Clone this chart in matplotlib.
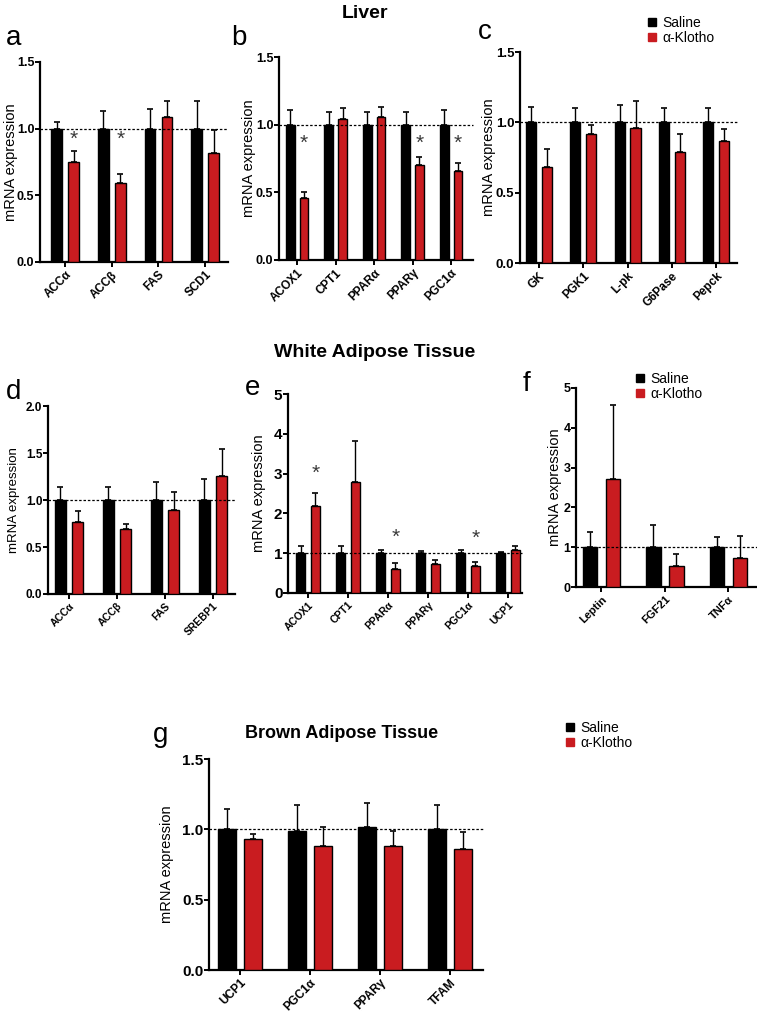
import matplotlib
matplotlib.use("Agg")
import matplotlib.pyplot as plt
from matplotlib import font_manager as fm
from matplotlib.lines import Line2D
import numpy as np

# ------------------------
# Data (means and upper SEM)
# ------------------------

# Liver - lipogenesis
a_genes = ["ACCα", "ACCβ", "FAS", "SCD1"]
a_sal = [1.0, 1.0, 1.0, 1.0]
a_sal_err = [0.05, 0.13, 0.15, 0.21]
a_kl = [0.75, 0.59, 1.09, 0.82]
a_kl_err = [0.08, 0.07, 0.12, 0.17]
a_stars = [0, 1]

# Liver - fatty acid oxidation
b_genes = ["ACOX1", "CPT1", "PPARα", "PPARγ", "PGC1α"]
b_sal = [1.0, 1.0, 1.0, 1.0, 1.0]
b_sal_err = [0.11, 0.09, 0.09, 0.09, 0.11]
b_kl = [0.46, 1.04, 1.06, 0.70, 0.66]
b_kl_err = [0.04, 0.08, 0.07, 0.06, 0.06]
b_stars = [0, 3, 4]

# Liver - glucose metabolism
c_genes = ["GK", "PGK1", "L-pk", "G6Pase", "Pepck"]
c_sal = [1.0, 1.0, 1.0, 1.0, 1.0]
c_sal_err = [0.11, 0.10, 0.12, 0.10, 0.10]
c_kl = [0.68, 0.92, 0.96, 0.79, 0.87]
c_kl_err = [0.13, 0.06, 0.19, 0.13, 0.08]
c_stars = []

# WAT - lipogenesis
d_genes = ["ACCα", "ACCβ", "FAS", "SREBP1"]
d_sal = [1.0, 1.0, 1.0, 1.0]
d_sal_err = [0.14, 0.14, 0.19, 0.22]
d_kl = [0.77, 0.69, 0.89, 1.26]
d_kl_err = [0.11, 0.06, 0.20, 0.28]
d_stars = []

# WAT - oxidation / thermogenesis
e_genes = ["ACOX1", "CPT1", "PPARα", "PPARγ", "PGC1α", "UCP1"]
e_sal = [1.0, 1.0, 1.0, 1.0, 1.0, 1.0]
e_sal_err = [0.17, 0.19, 0.08, 0.06, 0.07, 0.03]
e_kl = [2.18, 2.80, 0.60, 0.73, 0.69, 1.07]
e_kl_err = [0.34, 1.02, 0.15, 0.09, 0.09, 0.10]
e_stars = [0, 2, 4]
e_star_y = [3.0, 1.4, 1.38]

# WAT - adipokines
f_genes = ["Leptin", "FGF21", "TNFα"]
f_sal = [1.0, 1.0, 1.0]
f_sal_err = [0.38, 0.57, 0.26]
f_kl = [2.72, 0.52, 0.74]
f_kl_err = [1.85, 0.30, 0.55]
f_stars = []

# BAT
g_genes = ["UCP1", "PGC1α", "PPARγ", "TFAM"]
g_sal = [1.0, 0.99, 1.02, 1.0]
g_sal_err = [0.145, 0.18, 0.17, 0.17]
g_kl = [0.93, 0.88, 0.88, 0.86]
g_kl_err = [0.04, 0.14, 0.11, 0.12]
g_stars = []

RED = "#c91c20"
W, H = 757, 1013

plt.rcParams['font.family'] = ['Liberation Sans', 'DejaVu Sans']

# narrow bold numbers if a narrow face is there
try:
    fm.findfont('Liberation Sans Narrow', fallback_to_default=False)
    NARROW, NSCALE = 'Liberation Sans Narrow', 1.2
except Exception:
    NARROW, NSCALE = 'Liberation Sans', 1.0

fig = plt.figure(figsize=(W / 100, H / 100), dpi=100)


def px_axes(left, right, top, bottom):
    ax = fig.add_axes([left / W, 1 - bottom / H, (right - left) / W, (bottom - top) / H])
    ax._px = (left, right)
    return ax


def panel(ax, genes, sal, sal_err, kl, kl_err, ylim, yticks, ylabels, xlim,
          stars=(), star_y=None, off=0.18, width=0.23, ylab_size=10.5, ylab_x=None,
          tick_size=9, xt_size=8, narrow=True):
    x = np.arange(len(genes))
    ax.bar(x - off, sal, width, color='black', edgecolor='black', linewidth=1, zorder=3)
    ax.bar(x + off, kl, width, color=RED, edgecolor='black', linewidth=1, zorder=3)
    ax.errorbar(x - off, sal, yerr=[np.zeros(len(x)), sal_err], fmt='none',
                ecolor='black', elinewidth=1, capsize=2.5, capthick=1.2, zorder=2)
    ax.errorbar(x + off, kl, yerr=[np.zeros(len(x)), kl_err], fmt='none',
                ecolor='black', elinewidth=1, capsize=2.5, capthick=1.2, zorder=2)
    ax.axhline(1.0, color='black', linestyle=(0, (2, 1.5)), linewidth=0.9, zorder=4,
               clip_on=False)
    for k, i in enumerate(stars):
        yy = star_y[k] if isinstance(star_y, list) else star_y
        ax.text(i + off, yy, '*', ha='center', va='center', fontsize=15,
                color='#3a3a3a', zorder=5)
    ax.set_xlim(*xlim)
    ax.set_ylim(*ylim)
    ax.set_yticks(yticks)
    if narrow:
        ax.set_yticklabels(ylabels, fontfamily=NARROW, fontweight='bold',
                           fontsize=tick_size * NSCALE)
    else:
        ax.set_yticklabels(ylabels, fontweight='bold', fontsize=tick_size)
    ax.set_xticks(x)
    ax.set_xticklabels(genes, rotation=45, ha='right', rotation_mode='anchor',
                       fontweight='bold', fontsize=xt_size)
    ax.spines['top'].set_visible(False)
    ax.spines['right'].set_visible(False)
    ax.spines['left'].set_linewidth(1.6)
    ax.spines['bottom'].set_linewidth(1.6)
    ax.tick_params(axis='both', width=1.4, length=3.5, pad=1.5)
    ax.tick_params(axis='y', pad=0.5)
    ax.set_ylabel('mRNA expression', fontsize=ylab_size, va='center')
    if ylab_x is not None:
        left, right = ax._px
        ax.yaxis.set_label_coords((ylab_x - left) / (right - left), 0.5)


def legend_at(xp, yp):
    handles = [Line2D([], [], marker='s', linestyle='', color='black', markersize=6),
               Line2D([], [], marker='s', linestyle='', color=RED, markersize=6)]
    fig.legend(handles, ['Saline', 'α-Klotho'], loc='upper left',
               bbox_to_anchor=(xp / W, 1 - yp / H), frameon=False, fontsize=10,
               handlelength=0.8, handletextpad=0.4, labelspacing=0.05,
               borderpad=0, borderaxespad=0)


def label_at(txt, xp, yp, size=20):
    fig.text(xp / W, 1 - yp / H, txt, fontsize=size, ha='left', va='center')


# ------------------------
# Liver row
# ------------------------
tk15 = [0, 0.5, 1.0, 1.5]
lb15 = ['0.0', '0.5', '1.0', '1.5']

ax_a = px_axes(40, 228, 62, 262)
panel(ax_a, a_genes, a_sal, a_sal_err, a_kl, a_kl_err, (0, 1.5), tk15, lb15,
      (-0.54, 3.49), a_stars, 0.92, ylab_x=11, tick_size=9, xt_size=8.5)
ax_b = px_axes(279, 473, 57, 260)
panel(ax_b, b_genes, b_sal, b_sal_err, b_kl, b_kl_err, (0, 1.5), tk15, lb15,
      (-0.47, 4.57), b_stars, 0.86, ylab_x=249, tick_size=9, xt_size=8.5)
ax_c = px_axes(520, 737, 52, 263)
panel(ax_c, c_genes, c_sal, c_sal_err, c_kl, c_kl_err, (0, 1.5), tk15, lb15,
      (-0.43, 4.47), c_stars, ylab_x=489, tick_size=9.5, xt_size=8.5)

fig.text(365 / W, 1 - 14 / H, 'Liver', fontsize=14, fontweight='bold', ha='center', va='center')
label_at('a', 6, 38)
label_at('b', 231, 38)
label_at('c', 478, 32)
legend_at(646, 16)

# ------------------------
# White adipose tissue row
# ------------------------
ax_d = px_axes(48, 235, 406, 594)
panel(ax_d, d_genes, d_sal, d_sal_err, d_kl, d_kl_err, (0, 2.0),
      [0, 0.5, 1.0, 1.5, 2.0], ['0.0', '0.5', '1.0', '1.5', '2.0'],
      (-0.44, 3.46), d_stars, ylab_size=9.5, ylab_x=14, tick_size=8.5, xt_size=7.5)
ax_e = px_axes(288, 522, 394, 593)
panel(ax_e, e_genes, e_sal, e_sal_err, e_kl, e_kl_err, (0, 5),
      [0, 1, 2, 3, 4, 5], ['0', '1', '2', '3', '4', '5'],
      (-0.5, 5.35), e_stars, e_star_y, ylab_size=10.5, ylab_x=259, tick_size=11,
      xt_size=7.5, narrow=False)
ax_f = px_axes(576, 757, 388, 587)
panel(ax_f, f_genes, f_sal, f_sal_err, f_kl, f_kl_err, (0, 5),
      [0, 1, 2, 3, 4, 5], ['0', '1', '2', '3', '4', '5'],
      (-0.4, 2.45), f_stars, ylab_size=10.5, ylab_x=555, tick_size=9, xt_size=8)

fig.text(375 / W, 1 - 352 / H, 'White Adipose Tissue', fontsize=14, fontweight='bold',
         ha='center', va='center')
label_at('d', 6, 392)
label_at('e', 245, 388)
label_at('f', 523, 384)
legend_at(634, 372)

# ------------------------
# Brown adipose tissue
# ------------------------
ax_g = px_axes(209, 483, 759, 970)
panel(ax_g, g_genes, g_sal, g_sal_err, g_kl, g_kl_err, (0, 1.5), tk15, lb15,
      (-0.44, 3.47), g_stars, off=0.186, width=0.25, ylab_size=10.5, ylab_x=167,
      tick_size=11, xt_size=8.5, narrow=False)
fig.text(342 / W, 1 - 733 / H, 'Brown Adipose Tissue', fontsize=13, fontweight='bold',
         ha='center', va='center')
label_at('g', 153, 735)
legend_at(564, 721)

plt.savefig('out.png', dpi=100)
